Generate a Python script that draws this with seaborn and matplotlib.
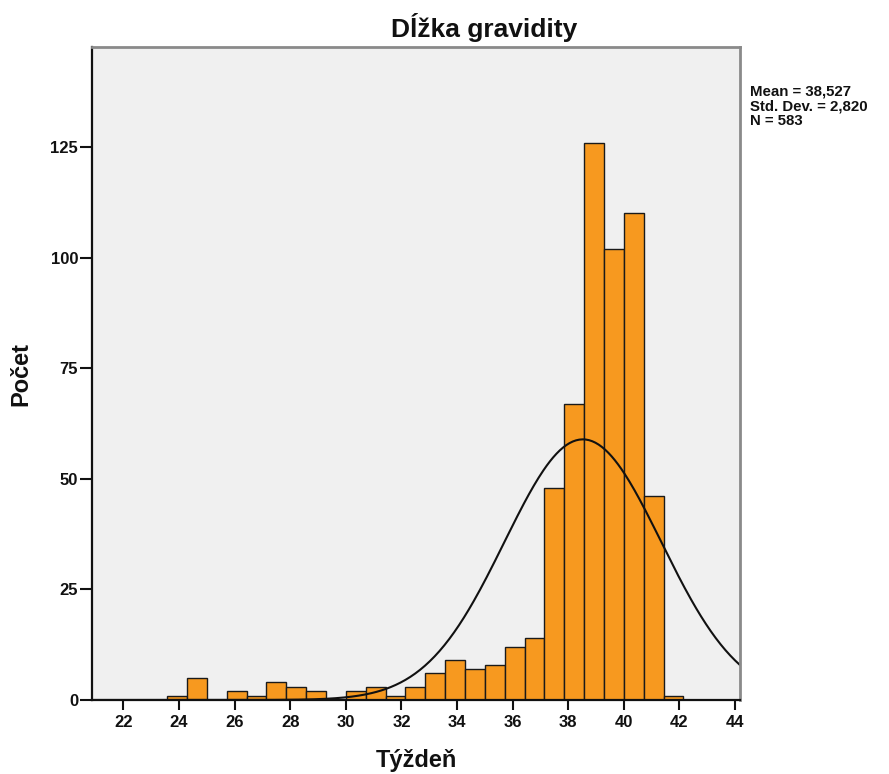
import numpy as np
import pandas as pd
import matplotlib
matplotlib.use("Agg")
import matplotlib.pyplot as plt
import seaborn as sns

# ---- data ----
bin_start = 23 + 4 / 7          # left edge of first bin (weeks)
bin_width = 5 / 7               # SPSS bin width
counts = [1, 5, 0, 2, 1, 4, 3, 2, 0, 2, 3, 1, 3, 6, 9, 7, 8, 12, 14,
          48, 67, 126, 102, 110, 46, 1]
mean_val = 38.527
sd_val = 2.820
n_val = 583
x_ticks = list(range(22, 45, 2))
y_ticks = [0, 25, 50, 75, 100, 125]
title = "Dĺžka gravidity"
xlabel = "Týždeň"
ylabel = "Počet"
stats_text = ["Mean = 38,527", "Std. Dev. = 2,820", "N = 583"]

edges = [bin_start + bin_width * k for k in range(len(counts) + 1)]
centers = [(edges[k] + edges[k + 1]) / 2 for k in range(len(counts))]
df = pd.DataFrame({"week": centers, "count": counts})

sns.set_theme(style="white")
plt.rcParams["font.family"] = ["Liberation Sans", "DejaVu Sans"]

W, H = 889, 774
fig = plt.figure(figsize=(W / 100, H / 100), dpi=100)
ax = fig.add_axes([92 / W, 74 / H, 648 / W, 653 / H])
ax.set_facecolor("#F0F0F0")

sns.histplot(data=df, x="week", weights="count", bins=edges, ax=ax,
             color="#F7991F", alpha=1, edgecolor="#1a1a1a", linewidth=1.0)

ax.set_xlim(20.87, 44.18)
ax.set_ylim(0, 147.6)

xs = np.linspace(20.87, 44.18, 400)
pdf = n_val * bin_width / (sd_val * np.sqrt(2 * np.pi)) * np.exp(-0.5 * ((xs - mean_val) / sd_val) ** 2)
sns.lineplot(x=xs, y=pdf, ax=ax, color="#111111", linewidth=1.5)

ax.set_xticks(x_ticks)
ax.set_yticks(y_ticks)
ax.set_xticklabels([str(t) for t in x_ticks], fontsize=12, fontweight="bold")
ax.set_yticklabels([str(t) for t in y_ticks], fontsize=12, fontweight="bold")
ax.tick_params(axis="x", direction="out", length=7.5, width=1.5, color="#111111",
               bottom=True, pad=3, labelcolor="#111111")
ax.tick_params(axis="y", direction="out", length=8.5, width=1.5, color="#111111",
               left=True, pad=1.5, labelcolor="#111111")

for s in ["left", "bottom"]:
    ax.spines[s].set_color("#111111")
    ax.spines[s].set_linewidth(1.6)
for s in ["top", "right"]:
    ax.spines[s].set_color("#8a8a8a")
    ax.spines[s].set_linewidth(2.0)
    ax.spines[s].set_visible(True)

ax.set_xlabel(xlabel, fontsize=17, fontweight="bold", labelpad=14, color="#111111")
ax.set_ylabel(ylabel, fontsize=17, fontweight="bold", labelpad=13, color="#111111")

fig.text(484 / W, 1 - 37 / H, title, ha="center", va="baseline",
         fontsize=19, fontweight="bold", color="#111111")

for i, line in enumerate(stats_text):
    fig.text(750 / W, 1 - (96 + 14.3 * i) / H, line, ha="left", va="baseline",
             fontsize=10.8, fontweight="bold", color="#111111")

fig.savefig("out.png", dpi=100, facecolor="white")
